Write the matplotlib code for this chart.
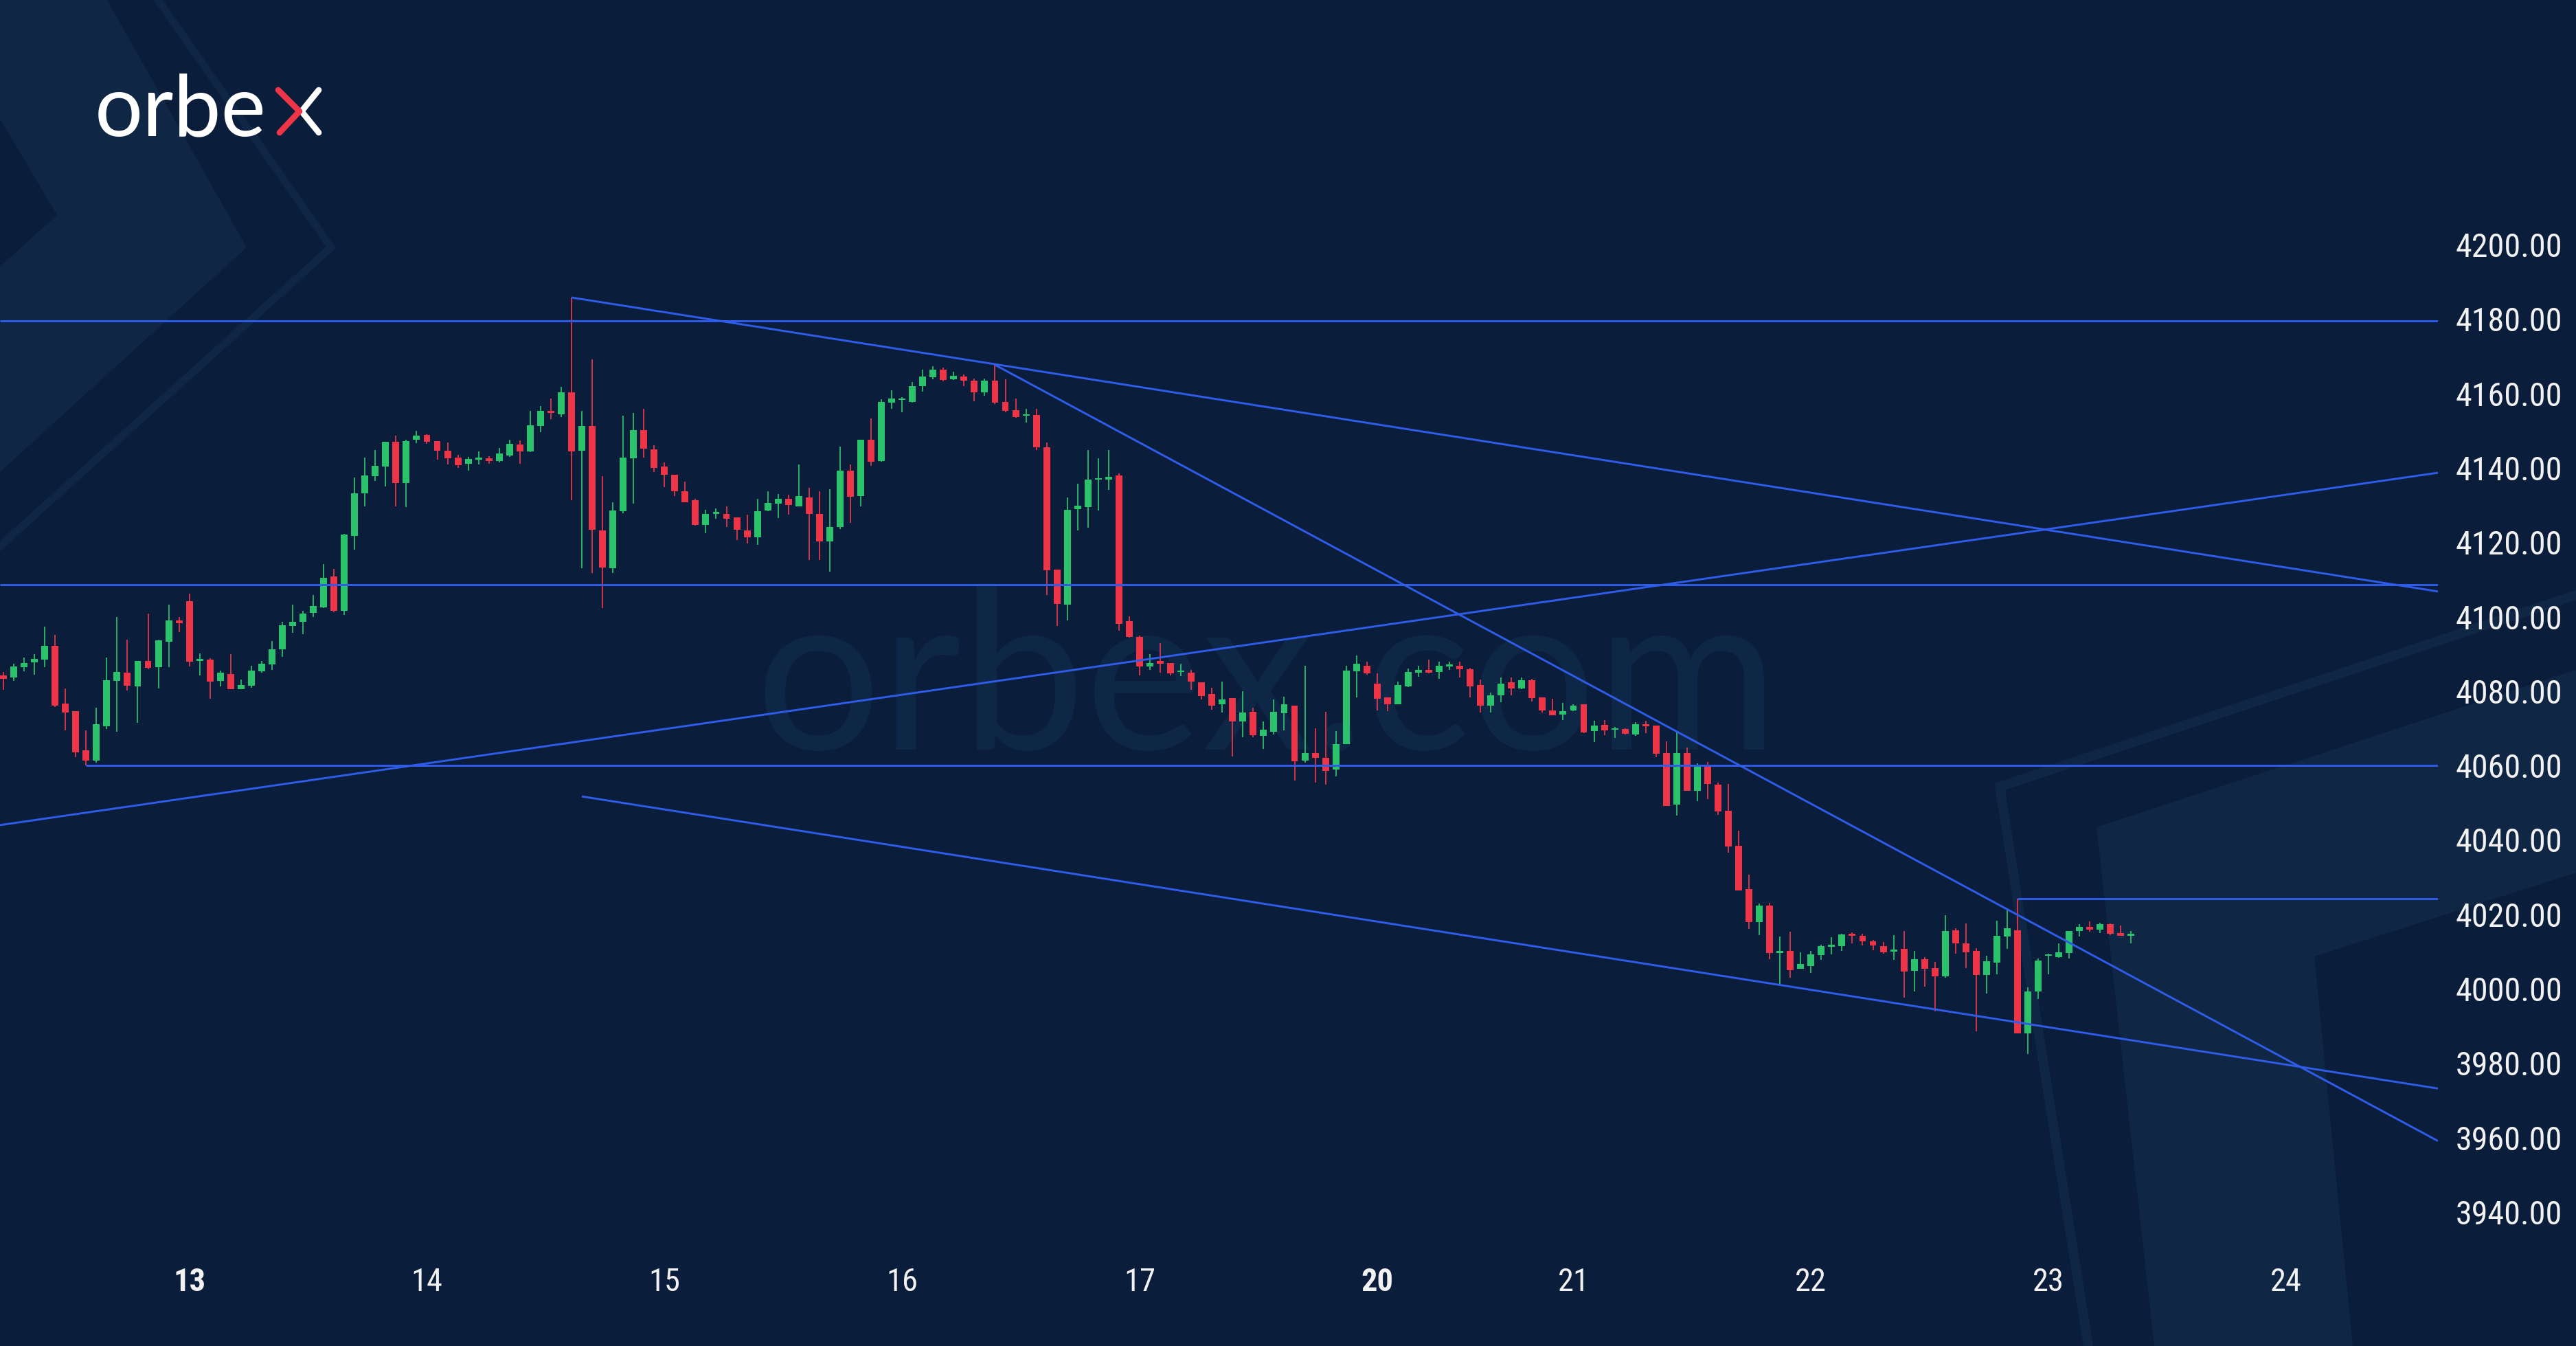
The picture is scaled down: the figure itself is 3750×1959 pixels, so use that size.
import matplotlib
matplotlib.use("Agg")
import matplotlib.pyplot as plt
import numpy as np
from matplotlib import font_manager
from matplotlib.textpath import TextPath
from matplotlib.font_manager import FontProperties
from matplotlib.patches import Polygon
from matplotlib.transforms import blended_transform_factory

# ---------------- data (hourly candles) ----------------
opens = [4085.2, 4084.6, 4087.4, 4088.6, 4089.4, 4093.1, 4077.5, 4075.5, 4065.0, 4062.3,
         4071.5, 4083.7, 4085.9, 4082.1, 4089.0, 4087.4, 4094.2, 4100.0, 4105.1, 4089.1,
         4089.3, 4083.7, 4085.5, 4081.4, 4082.4, 4086.2, 4088.0, 4092.1, 4098.4, 4099.5,
         4101.9, 4103.5, 4111.7, 4102.5, 4122.7, 4134.1, 4138.6, 4141.2, 4148.0, 4136.9,
         4148.4, 4149.7, 4148.1, 4145.6, 4143.6, 4142.1, 4143.2, 4143.4, 4142.8, 4144.2,
         4147.2, 4145.3, 4152.2, 4156.2, 4155.3, 4161.3, 4145.5, 4152.1, 4124.1, 4113.9,
         4129.2, 4143.4, 4151.0, 4145.9, 4141.3, 4139.1, 4134.6, 4132.2, 4125.6, 4128.5,
         4128.6, 4127.7, 4124.1, 4122.2, 4129.4, 4131.3, 4132.6, 4130.6, 4133.0, 4128.5,
         4121.1, 4125.0, 4140.2, 4133.4, 4148.4, 4142.7, 4158.5, 4159.1, 4158.7, 4162.8,
         4165.3, 4167.4, 4164.7, 4165.5, 4164.3, 4161.2, 4164.3, 4158.7, 4156.4, 4154.9,
         4155.2, 4146.4, 4113.6, 4104.1, 4129.9, 4130.4, 4137.7, 4137.7, 4138.9, 4099.7,
         4095.5, 4087.5, 4089.1, 4088.5, 4086.0, 4085.8, 4083.3, 4080.2, 4077.4, 4079.0,
         4072.8, 4075.3, 4068.9, 4070.0, 4074.9, 4077.1, 4062.2, 4064.3, 4062.9, 4059.8,
         4066.6, 4086.2, 4087.8, 4083.0, 4079.2, 4077.4, 4082.1, 4085.9, 4086.6, 4086.0,
         4087.5, 4087.8, 4086.8, 4082.5, 4077.1, 4079.7, 4083.2, 4081.7, 4083.8, 4079.2,
         4075.8, 4074.6, 4075.7, 4077.3, 4070.2, 4071.8, 4070.5, 4070.7, 4069.2, 4072.0,
         4071.7, 4064.3, 4050.5, 4064.3, 4054.2, 4060.9, 4055.7, 4048.7, 4039.3, 4027.7,
         4018.8, 4023.3, 4010.6, 4011.0, 4006.3, 4007.1, 4010.0, 4012.1, 4012.3, 4015.5,
         4015.2, 4013.6, 4012.4, 4010.9, 4011.6, 4005.8, 4008.8, 4006.5, 4004.3, 4016.7,
         4013.1, 4011.1, 4004.7, 4008.0, 4014.9, 4016.7, 3989.0, 4000.1, 4009.7, 4009.4,
         4010.6, 4016.4, 4017.5, 4016.8, 4018.3, 4015.8, 4015.2]
highs = [4086.1, 4088.2, 4090.0, 4090.9, 4098.2, 4096.1, 4081.7, 4075.5, 4070.3, 4076.5,
         4090.0, 4100.8, 4094.8, 4089.0, 4101.7, 4094.8, 4104.2, 4100.8, 4107.2, 4091.1,
         4089.8, 4086.4, 4090.9, 4084.1, 4087.8, 4089.1, 4094.3, 4099.5, 4104.1, 4102.5,
         4106.7, 4115.1, 4113.7, 4123.1, 4138.3, 4143.7, 4145.7, 4148.0, 4149.6, 4148.4,
         4150.8, 4150.0, 4148.1, 4147.7, 4144.5, 4143.8, 4145.3, 4144.0, 4146.2, 4148.5,
         4148.3, 4156.3, 4157.6, 4159.5, 4162.7, 4186.7, 4156.3, 4170.1, 4138.7, 4131.6,
         4154.9, 4155.7, 4156.8, 4147.0, 4142.3, 4139.1, 4137.3, 4132.6, 4129.6, 4130.0,
         4130.5, 4127.7, 4128.4, 4132.6, 4134.7, 4133.9, 4133.7, 4141.8, 4135.6, 4134.7,
         4135.1, 4146.6, 4141.8, 4148.4, 4154.2, 4159.3, 4161.8, 4160.0, 4163.9, 4167.4,
         4168.2, 4167.8, 4166.8, 4166.0, 4164.9, 4164.9, 4168.6, 4164.7, 4159.5, 4156.8,
         4156.8, 4147.8, 4113.6, 4132.9, 4136.7, 4145.7, 4143.5, 4145.7, 4139.5, 4101.0,
         4095.8, 4090.9, 4093.8, 4088.5, 4088.3, 4086.6, 4083.3, 4081.8, 4083.5, 4079.0,
         4080.8, 4076.5, 4072.8, 4078.6, 4079.4, 4077.1, 4087.8, 4071.0, 4075.3, 4070.1,
         4087.8, 4090.5, 4088.9, 4085.7, 4079.2, 4083.5, 4086.9, 4087.8, 4089.3, 4088.8,
         4088.9, 4088.9, 4087.2, 4084.1, 4080.6, 4084.5, 4084.6, 4084.6, 4084.2, 4079.2,
         4078.9, 4077.8, 4077.4, 4077.3, 4072.9, 4073.1, 4071.2, 4071.0, 4072.5, 4072.9,
         4071.7, 4067.4, 4070.0, 4065.8, 4061.5, 4061.9, 4056.4, 4055.9, 4043.4, 4031.5,
         4023.8, 4024.0, 4015.0, 4016.2, 4010.8, 4011.1, 4012.7, 4014.7, 4015.7, 4016.0,
         4015.7, 4014.1, 4013.4, 4015.3, 4016.4, 4011.1, 4009.4, 4008.1, 4020.7, 4017.2,
         4018.5, 4011.8, 4009.8, 4019.2, 4022.4, 4025.1, 4001.2, 4009.1, 4010.4, 4013.1,
         4016.4, 4018.2, 4019.0, 4018.7, 4018.5, 4017.9, 4016.4]
lows = [4081.2, 4083.7, 4086.2, 4085.4, 4087.4, 4076.7, 4070.3, 4063.1, 4060.9, 4061.6,
        4070.7, 4069.9, 4081.0, 4072.3, 4086.8, 4081.7, 4087.4, 4096.8, 4087.6, 4085.1,
        4078.8, 4082.1, 4081.4, 4081.4, 4081.9, 4085.8, 4086.6, 4090.1, 4096.5, 4096.3,
        4100.8, 4103.2, 4102.1, 4101.4, 4118.9, 4130.5, 4137.4, 4135.9, 4130.5, 4130.4,
        4147.5, 4147.4, 4143.2, 4141.9, 4140.9, 4140.2, 4141.9, 4142.1, 4142.3, 4143.8,
        4142.1, 4145.1, 4150.6, 4154.0, 4154.6, 4132.2, 4113.9, 4112.7, 4103.3, 4112.7,
        4128.8, 4131.3, 4143.6, 4139.8, 4135.8, 4133.4, 4131.7, 4125.4, 4123.3, 4127.3,
        4125.0, 4121.6, 4120.6, 4120.3, 4129.2, 4127.5, 4128.4, 4130.5, 4116.1, 4116.1,
        4113.1, 4124.5, 4126.2, 4130.5, 4141.4, 4142.6, 4156.7, 4155.8, 4158.5, 4161.4,
        4164.7, 4164.2, 4164.6, 4162.9, 4158.9, 4160.3, 4158.1, 4155.9, 4154.4, 4153.1,
        4145.7, 4106.8, 4098.4, 4100.0, 4124.1, 4124.8, 4129.4, 4135.0, 4097.1, 4095.2,
        4085.2, 4086.6, 4085.8, 4085.2, 4085.0, 4081.3, 4078.7, 4075.9, 4075.1, 4063.3,
        4068.6, 4068.6, 4065.4, 4069.2, 4070.3, 4056.8, 4061.6, 4056.3, 4055.8, 4058.0,
        4066.6, 4079.2, 4085.4, 4075.8, 4075.5, 4077.4, 4082.0, 4084.8, 4085.7, 4084.3,
        4086.6, 4084.6, 4079.2, 4075.2, 4075.1, 4078.0, 4079.8, 4081.5, 4078.2, 4075.1,
        4074.5, 4073.1, 4075.5, 4069.6, 4067.2, 4069.1, 4068.3, 4069.2, 4068.9, 4069.7,
        4063.2, 4050.0, 4047.5, 4054.2, 4051.3, 4051.8, 4047.7, 4037.5, 4027.3, 4017.0,
        4015.4, 4008.9, 4001.7, 4003.8, 4006.2, 4005.2, 4008.7, 4010.1, 4011.1, 4013.1,
        4012.6, 4011.3, 4010.3, 4008.7, 3998.6, 4000.2, 4001.4, 3994.9, 4003.8, 4010.4,
        4006.5, 3989.5, 3999.6, 4004.8, 4011.6, 3988.9, 3983.4, 3998.1, 4004.8, 4009.3,
        4009.1, 4014.9, 4016.2, 4015.9, 4015.4, 4015.1, 4013.1]
closes = [4084.2, 4087.6, 4088.4, 4089.6, 4093.1, 4077.1, 4075.1, 4064.5, 4062.3, 4072.0,
          4083.9, 4086.1, 4082.3, 4089.0, 4087.1, 4094.5, 4100.0, 4099.2, 4088.8, 4089.3,
          4083.4, 4085.8, 4081.4, 4082.5, 4086.4, 4088.2, 4092.1, 4098.6, 4099.5, 4101.7,
          4103.7, 4111.4, 4102.5, 4123.0, 4134.1, 4138.9, 4141.4, 4148.0, 4136.9, 4148.2,
          4149.6, 4148.0, 4145.5, 4143.4, 4141.7, 4143.3, 4143.5, 4142.8, 4144.7, 4147.3,
          4145.3, 4152.4, 4156.2, 4155.7, 4161.3, 4145.3, 4152.1, 4124.3, 4114.1, 4129.5,
          4143.6, 4151.0, 4146.0, 4140.9, 4139.1, 4134.6, 4131.7, 4125.6, 4128.6, 4128.6,
          4127.2, 4124.3, 4122.2, 4129.2, 4131.5, 4132.6, 4130.9, 4133.4, 4128.5, 4121.1,
          4125.0, 4140.2, 4133.2, 4148.4, 4142.6, 4158.7, 4159.5, 4159.3, 4162.9, 4165.5,
          4167.3, 4164.6, 4165.6, 4164.3, 4161.2, 4164.3, 4158.5, 4156.2, 4154.6, 4155.2,
          4146.4, 4113.3, 4104.3, 4129.7, 4130.7, 4137.7, 4138.0, 4138.5, 4098.9, 4095.5,
          4087.5, 4088.5, 4088.2, 4085.6, 4086.2, 4083.5, 4079.6, 4077.1, 4078.7, 4072.8,
          4075.1, 4069.1, 4070.5, 4075.3, 4077.4, 4062.0, 4064.3, 4062.9, 4059.5, 4066.6,
          4086.4, 4088.2, 4085.6, 4078.8, 4077.4, 4082.5, 4086.1, 4086.6, 4085.9, 4087.8,
          4087.8, 4086.8, 4082.2, 4077.1, 4079.7, 4083.0, 4081.7, 4083.8, 4079.0, 4075.7,
          4074.5, 4075.6, 4077.1, 4069.8, 4071.7, 4070.3, 4070.7, 4069.4, 4072.0, 4071.5,
          4064.1, 4050.0, 4064.3, 4054.2, 4060.9, 4055.9, 4048.5, 4039.1, 4027.4, 4018.8,
          4023.2, 4010.6, 4011.0, 4006.0, 4007.6, 4010.2, 4012.4, 4012.7, 4015.5, 4015.2,
          4013.7, 4012.6, 4010.8, 4011.4, 4005.5, 4008.8, 4006.3, 4004.3, 4016.4, 4013.1,
          4010.8, 4004.7, 4008.3, 4015.1, 4017.2, 3989.0, 4000.2, 4008.5, 4009.9, 4010.8,
          4016.4, 4017.5, 4016.8, 4018.3, 4015.7, 4015.2, 4015.4]

price_ticks = [4200, 4180, 4160, 4140, 4120, 4100, 4080, 4060, 4040, 4020, 4000, 3980, 3960, 3940]
day_labels = ["13", "14", "15", "16", "17", "20", "21", "22", "23", "24"]
day_candle_index = [18, 41, 64, 87, 110, 133, 152, 175, 198, 221]
bold_days = ["13", "20"]

# horizontal levels: (price, index where the line starts; None = from left edge)
h_levels = [(4180.5, None), (4109.5, None), (4060.9, 8), (4025.1, 195)]
# trend lines: (start index, start price, end index, end price)
trend_lines = [(55, 4186.7, 235.7, 4107.7),
               (96, 4168.6, 235.7, 3960.0),
               (-0.33, 4044.9, 235.7, 4139.6),
               (56, 4052.6, 235.7, 3974.1)]

# ---------------- style ----------------
W, H, DPI = 3750, 1959, 250
BG = "#0A1E3B"
BAND = "#0F2645"
WM = "#0F2746"
GREEN = "#2BC26C"
RED = "#EE3548"
BLUE = "#2F5CE8"
XMIN, XMAX = -0.333, 235.7
YMIN, YMAX = 3930.56, 4266.67


def first_family(cands):
    for name in cands:
        try:
            font_manager.findfont(FontProperties(family=name), fallback_to_default=False)
            return name
        except Exception:
            pass
    return "DejaVu Sans"


def fit_size(s, fp, target_w, target_h):
    """font size (pt) so that the ink of s fits target_w x target_h pixels"""
    e = TextPath((0, 0), s, size=100, prop=fp).get_extents()
    size_px = min(100 * target_w / e.width, 100 * target_h / e.height)
    k = size_px / 100
    return size_px * 72 / DPI, e.x0 * k


label_family = first_family(["Liberation Sans Narrow", "Roboto Condensed", "DejaVu Sans Condensed",
                             "Open Sans Condensed", "Liberation Sans", "Roboto"])
logo_family = first_family(["Lato", "Noto Sans", "DejaVu Sans"])

fig = plt.figure(figsize=(W / DPI, H / DPI), dpi=DPI, facecolor=BG)

# background layer in pixel coordinates
bg = fig.add_axes([0, 0, 1, 1], zorder=0)
bg.set_xlim(0, W)
bg.set_ylim(H, 0)
bg.axis("off")

bg.add_patch(Polygon([(0, 0), (156, 0), (359, 360), (0, 687), (0, 388), (83, 313), (0, 173)],
                     closed=True, facecolor=BAND, edgecolor="none"))
bg.plot([230, 482, 0], [0, 360, 795], color=BAND, lw=3.2, solid_joinstyle="miter")
bg.add_patch(Polygon([(3750, 975), (3052, 1204), (3136, 1959), (3425, 1959), (3369, 1392), (3750, 1270)],
                     closed=True, facecolor=BAND, edgecolor="none"))
bg.plot([3750, 2911, 3040], [866, 1145, 1959], color=BAND, lw=4.0, solid_joinstyle="miter")

# watermark
wm_fp = FontProperties(family=logo_family)
wm_size, wm_x0 = fit_size("orbex.com", wm_fp, 1526, 240)
bg.text(1113 - wm_x0, 1091, "orbex.com", fontproperties=wm_fp, fontsize=wm_size,
        color=WM, ha="left", va="baseline")

# logo
logo_fp = FontProperties(family=logo_family, weight="normal")
logo_size, logo_x0 = fit_size("orbe", logo_fp, 254, 92)
bg.text(143 - logo_x0, 197, "orbe", fontproperties=logo_fp, fontsize=logo_size,
        color="white", ha="left", va="baseline")
bg.plot([464, 439, 464], [131, 162, 193], color="white", lw=2.5, solid_capstyle="round", solid_joinstyle="round")
bg.plot([405, 436, 407], [131, 162, 193], color=RED, lw=2.5, solid_capstyle="round", solid_joinstyle="round")

# main chart
ax = fig.add_axes([0, 139 / H, 3549 / W, 1820 / H], zorder=1)
ax.set_facecolor("none")
ax.set_xlim(XMIN, XMAX)
ax.set_ylim(YMIN, YMAX)
ax.axis("off")

o = np.array(opens)
h = np.array(highs)
l = np.array(lows)
c = np.array(closes)
x = np.arange(len(o))
up = c >= o
cols = np.where(up, GREEN, RED)
bottom = np.minimum(o, c)
height = np.maximum(np.abs(c - o), 0.5)

ax.vlines(x, l, h, colors=cols, lw=0.5, zorder=3)
ax.bar(x, height, width=0.66, bottom=bottom, color=cols, linewidth=0, zorder=4)

for price, start in h_levels:
    xs = XMIN if start is None else start
    ax.plot([xs, XMAX], [price, price], color=BLUE, lw=0.85, zorder=5, solid_capstyle="butt")
for x0, p0, x1, p1 in trend_lines:
    ax.plot([x0, x1], [p0, p1], color=BLUE, lw=0.85, zorder=5, solid_capstyle="butt")

# price labels
yl_fp = FontProperties(family=label_family)
yl_size, _ = fit_size("4200.00", yl_fp, 151, 37)
ytr = blended_transform_factory(fig.transFigure, ax.transData)
for p in price_ticks:
    ax.text(3575 / W, p, f"{p:.2f}", transform=ytr, ha="left", va="center",
            fontsize=yl_size, color="#F2F2F2", family=label_family, clip_on=False)

# day labels
xl_fp = FontProperties(family=label_family)
xl_size, _ = fit_size("13", xl_fp, 40, 34)
xtr = blended_transform_factory(ax.transData, fig.transFigure)
for lab, idx in zip(day_labels, day_candle_index):
    ax.text(idx, 1 - 1866 / H, lab, transform=xtr, ha="center", va="center",
            fontsize=xl_size, color="#F2F2F2", family=label_family,
            fontweight="bold" if lab in bold_days else "normal", clip_on=False)

fig.savefig("out.png", dpi=DPI, facecolor=BG)
